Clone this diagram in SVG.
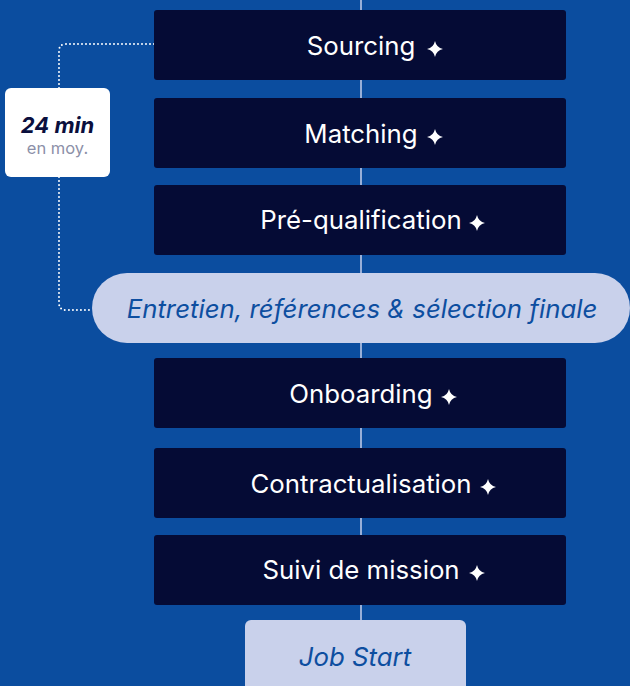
<svg xmlns="http://www.w3.org/2000/svg" width="630" height="686" viewBox="0 0 630 686">
<defs>
<style>
.box{fill:#050b35}
.lbl{font-family:Inter,"Liberation Sans",sans-serif;font-size:25.8px;fill:#ffffff;text-anchor:middle}
.ital{font-family:Inter,"Liberation Sans",sans-serif;font-size:25.8px;font-style:italic;fill:#0d4ea0;text-anchor:middle}
.light{fill:#c9d1eb}
.star{fill:#ffffff}
.dots{fill:none;stroke:#ffffff;stroke-width:2;stroke-linecap:round;stroke-dasharray:0 4}
</style>
<path id="sp" d="M0,-8 Q1.4,-1.4 8,0 Q1.4,1.4 0,8 Q-1.4,1.4 -8,0 Q-1.4,-1.4 0,-8Z"/>
</defs>
<rect width="630" height="686" fill="#0b4d9f"/>
<g id="connectors">
<line x1="361" y1="0" x2="361" y2="686" stroke="#c9d1eb" stroke-width="1.5"/>
<path class="dots" d="M154,44 H66 Q59,44 59,51 V88"/>
<path class="dots" d="M59,177 V303 Q59,310 66,310 H92"/>
</g>
<g id="sourcing">
<rect class="box" x="154" y="10" width="412" height="70" rx="3"/>
<text class="lbl" x="361" y="55">Sourcing</text>
<use href="#sp" class="star" x="435" y="49"/>
</g>
<g id="matching">
<rect class="box" x="154" y="98" width="412" height="70" rx="3"/>
<text class="lbl" x="361" y="143">Matching</text>
<use href="#sp" class="star" x="435" y="137"/>
</g>
<g id="prequalification">
<rect class="box" x="154" y="185" width="412" height="70" rx="3"/>
<text class="lbl" x="361" y="229">Pré-qualification</text>
<use href="#sp" class="star" x="477" y="223"/>
</g>
<g id="entretien">
<rect class="light" x="92" y="273" width="538" height="70" rx="35"/>
<text class="ital" x="362" y="318">Entretien, références &amp; sélection finale</text>
</g>
<g id="onboarding">
<rect class="box" x="154" y="358" width="412" height="70" rx="3"/>
<text class="lbl" x="361" y="403">Onboarding</text>
<use href="#sp" class="star" x="449" y="397"/>
</g>
<g id="contractualisation">
<rect class="box" x="154" y="448" width="412" height="70" rx="3"/>
<text class="lbl" x="361" y="493">Contractualisation</text>
<use href="#sp" class="star" x="488" y="487"/>
</g>
<g id="suivi">
<rect class="box" x="154" y="535" width="412" height="70" rx="3"/>
<text class="lbl" x="361" y="579">Suivi de mission</text>
<use href="#sp" class="star" x="477" y="573"/>
</g>
<g id="jobstart">
<rect class="light" x="245" y="620" width="221" height="80" rx="6"/>
<text class="ital" x="355" y="666">Job Start</text>
</g>
<g id="badge">
<rect x="5" y="88" width="105" height="89" rx="6" fill="#ffffff"/>
<text x="57.5" y="133" text-anchor="middle" font-family="Inter,'Liberation Sans',sans-serif" font-size="22" font-weight="bold" font-style="italic" fill="#0a0f3d">24 min</text>
<text x="57.5" y="154" text-anchor="middle" font-family="Inter,'Liberation Sans',sans-serif" font-size="16.5" fill="#8c90a8">en moy.</text>
</g>
</svg>
